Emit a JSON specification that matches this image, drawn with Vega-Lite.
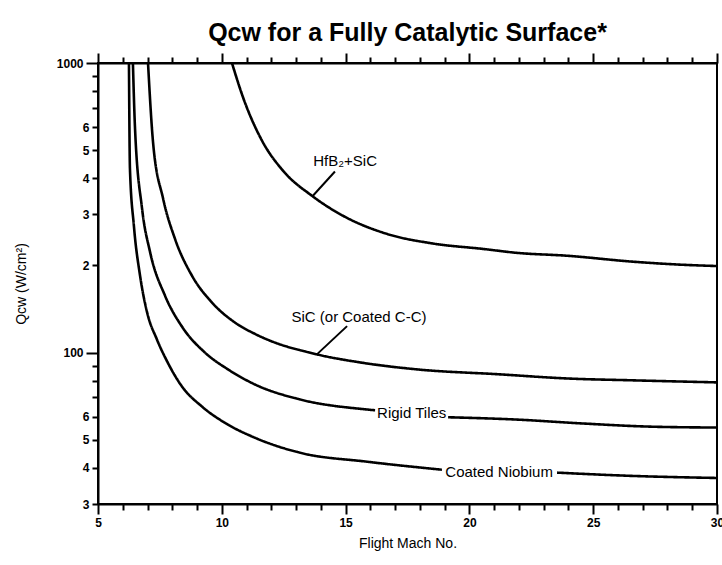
{
  "$schema": "https://vega.github.io/schema/vega-lite/v6.json",
  "width": 619,
  "height": 441,
  "autosize": {"type": "none"},
  "padding": {"left": 98, "top": 63, "right": 5, "bottom": 61},
  "background": "white",
  "title": {"text": "Qcw for a Fully Catalytic Surface*", "font": "Liberation Sans", "fontSize": 25, "fontWeight": "bold", "color": "black", "anchor": "middle", "frame": "group", "offset": 6},
  "config": {
    "view": {"stroke": "black", "strokeWidth": 2},
    "axis": {"domainColor": "black", "domainWidth": 2, "tickColor": "black", "tickWidth": 2, "labelColor": "black", "titleColor": "black", "grid": false, "labelFont": "Liberation Sans", "labelFontWeight": "bold", "labelFontSize": 12, "titleFont": "Liberation Sans", "titleFontWeight": "normal", "titleFontSize": 14, "labelFlush": false, "labelOverlap": false}
  },
  "datasets": {
    "curves": [
      {"series": "Coated Niobium", "seg": "a", "mach": 6.25, "q": 1000},
      {"series": "Coated Niobium", "seg": "a", "mach": 6.29, "q": 432},
      {"series": "Coated Niobium", "seg": "a", "mach": 6.45, "q": 274},
      {"series": "Coated Niobium", "seg": "a", "mach": 6.70, "q": 184},
      {"series": "Coated Niobium", "seg": "a", "mach": 6.98, "q": 138},
      {"series": "Coated Niobium", "seg": "a", "mach": 7.38, "q": 111},
      {"series": "Coated Niobium", "seg": "a", "mach": 7.79, "q": 93.3},
      {"series": "Coated Niobium", "seg": "a", "mach": 8.39, "q": 76.4},
      {"series": "Coated Niobium", "seg": "a", "mach": 9.20, "q": 65.1},
      {"series": "Coated Niobium", "seg": "a", "mach": 10.25, "q": 56.4},
      {"series": "Coated Niobium", "seg": "a", "mach": 11.34, "q": 50.8},
      {"series": "Coated Niobium", "seg": "a", "mach": 13.16, "q": 45.1},
      {"series": "Coated Niobium", "seg": "a", "mach": 15.86, "q": 42.0},
      {"series": "Coated Niobium", "seg": "a", "mach": 18.89, "q": 39.4},
      {"series": "Coated Niobium", "seg": "b", "mach": 23.54, "q": 38.5},
      {"series": "Coated Niobium", "seg": "b", "mach": 26.61, "q": 37.5},
      {"series": "Coated Niobium", "seg": "b", "mach": 30, "q": 36.9},
      {"series": "Rigid Tiles", "seg": "a", "mach": 6.41, "q": 1000},
      {"series": "Rigid Tiles", "seg": "a", "mach": 6.49, "q": 609},
      {"series": "Rigid Tiles", "seg": "a", "mach": 6.78, "q": 314},
      {"series": "Rigid Tiles", "seg": "a", "mach": 7.10, "q": 223},
      {"series": "Rigid Tiles", "seg": "a", "mach": 7.71, "q": 157},
      {"series": "Rigid Tiles", "seg": "a", "mach": 8.39, "q": 123},
      {"series": "Rigid Tiles", "seg": "a", "mach": 9.32, "q": 100},
      {"series": "Rigid Tiles", "seg": "a", "mach": 10.25, "q": 87.5},
      {"series": "Rigid Tiles", "seg": "a", "mach": 11.34, "q": 77.6},
      {"series": "Rigid Tiles", "seg": "a", "mach": 13.16, "q": 68.9},
      {"series": "Rigid Tiles", "seg": "a", "mach": 15.86, "q": 63.6},
      {"series": "Rigid Tiles", "seg": "a", "mach": 16.19, "q": 63.2},
      {"series": "Rigid Tiles", "seg": "b", "mach": 19.14, "q": 59.8},
      {"series": "Rigid Tiles", "seg": "b", "mach": 21.92, "q": 58.7},
      {"series": "Rigid Tiles", "seg": "b", "mach": 24.59, "q": 56.9},
      {"series": "Rigid Tiles", "seg": "b", "mach": 27.29, "q": 55.5},
      {"series": "Rigid Tiles", "seg": "b", "mach": 30, "q": 55.1},
      {"series": "SiC", "seg": "a", "mach": 7.02, "q": 1000},
      {"series": "SiC", "seg": "a", "mach": 7.22, "q": 536},
      {"series": "SiC", "seg": "a", "mach": 7.63, "q": 340},
      {"series": "SiC", "seg": "a", "mach": 8.11, "q": 247},
      {"series": "SiC", "seg": "a", "mach": 8.80, "q": 184},
      {"series": "SiC", "seg": "a", "mach": 9.60, "q": 149},
      {"series": "SiC", "seg": "a", "mach": 10.53, "q": 127},
      {"series": "SiC", "seg": "a", "mach": 11.34, "q": 116},
      {"series": "SiC", "seg": "a", "mach": 11.83, "q": 111},
      {"series": "SiC", "seg": "a", "mach": 13.84, "q": 98.6},
      {"series": "SiC", "seg": "a", "mach": 15.58, "q": 92.5},
      {"series": "SiC", "seg": "a", "mach": 17.88, "q": 87.5},
      {"series": "SiC", "seg": "a", "mach": 21.24, "q": 84.1},
      {"series": "SiC", "seg": "a", "mach": 23.94, "q": 81.4},
      {"series": "SiC", "seg": "a", "mach": 26.61, "q": 80.2},
      {"series": "SiC", "seg": "a", "mach": 30, "q": 78.9},
      {"series": "HfB2+SiC", "seg": "a", "mach": 10.41, "q": 1000},
      {"series": "HfB2+SiC", "seg": "a", "mach": 10.86, "q": 760},
      {"series": "HfB2+SiC", "seg": "a", "mach": 11.62, "q": 540},
      {"series": "HfB2+SiC", "seg": "a", "mach": 12.47, "q": 425},
      {"series": "HfB2+SiC", "seg": "a", "mach": 13.68, "q": 346},
      {"series": "HfB2+SiC", "seg": "a", "mach": 14.89, "q": 297},
      {"series": "HfB2+SiC", "seg": "a", "mach": 16.67, "q": 257},
      {"series": "HfB2+SiC", "seg": "a", "mach": 18.53, "q": 238},
      {"series": "HfB2+SiC", "seg": "a", "mach": 20.55, "q": 228},
      {"series": "HfB2+SiC", "seg": "a", "mach": 21.92, "q": 221},
      {"series": "HfB2+SiC", "seg": "a", "mach": 23.94, "q": 216},
      {"series": "HfB2+SiC", "seg": "a", "mach": 26.61, "q": 206},
      {"series": "HfB2+SiC", "seg": "a", "mach": 28.63, "q": 201},
      {"series": "HfB2+SiC", "seg": "a", "mach": 30, "q": 199}
    ],
    "leaders": [
      {"series": "HfB2+SiC", "mach": 14.57, "q": 422, "mach2": 13.68, "q2": 348},
      {"series": "SiC", "mach": 15.06, "q": 123.4, "mach2": 13.84, "q2": 98.6}
    ],
    "labels": [
      {"text": "HfB₂+SiC", "mach": 14.98, "q": 457},
      {"text": "SiC (or Coated C-C)", "mach": 15.54, "q": 132.5},
      {"text": "Rigid Tiles", "mach": 17.67, "q": 62.1},
      {"text": "Coated Niobium", "mach": 21.2, "q": 38.7}
    ]
  },
  "layer": [
    {
      "data": {"name": "curves"},
      "mark": {"type": "line", "color": "black", "strokeWidth": 2.6, "interpolate": "monotone", "clip": true},
      "encoding": {
        "x": {"field": "mach", "type": "quantitative", "scale": {"domain": [5, 30], "nice": false, "zero": false},
          "axis": {"orient": "bottom", "values": [5,6,7,8,9,10,11,12,13,14,15,16,17,18,19,20,21,22,23,24,25,26,27,28,29,30],
            "labelExpr": "datum.value % 5 == 0 ? datum.label : ''",
            "tickSize": {"condition": {"test": "datum.value % 5 == 0", "value": 10}, "value": 6},
            "labelPadding": 3, "title": "Flight Mach No.", "titlePadding": 8}},
        "y": {"field": "q", "type": "quantitative", "scale": {"type": "log", "domain": [30, 1000], "nice": false},
          "axis": {"orient": "left", "values": [30,40,50,60,70,80,90,100,200,300,400,500,600,700,800,900,1000], "format": "d",
            "labelExpr": "datum.value == 100 || datum.value == 1000 ? datum.label : (indexof([70,80,90,700,800,900], datum.value) >= 0 ? '' : substring(datum.label, 0, 1))",
            "tickSize": {"condition": {"test": "datum.value == 100 || datum.value == 1000", "value": 12}, "value": 6},
            "labelPadding": 3, "title": "Qcw (W/cm²)", "titlePadding": 28}},
        "detail": {"field": "series"},
        "strokeDash": {"field": "seg", "legend": null, "scale": {"range": [[1,0],[1,0]]}}
      }
    },
    {
      "data": {"name": "leaders"},
      "mark": {"type": "rule", "color": "black", "strokeWidth": 2},
      "encoding": {
        "x": {"field": "mach", "type": "quantitative",
          "axis": {"orient": "top", "values": [5,6,7,8,9,10,11,12,13,14,15,16,17,18,19,20,21,22,23,24,25,26,27,28,29,30],
            "labels": false, "title": null,
            "tickSize": {"condition": {"test": "datum.value % 5 == 0", "value": 10}, "value": 6}}},
        "y": {"field": "q", "type": "quantitative"},
        "x2": {"field": "mach2"},
        "y2": {"field": "q2"}
      }
    },
    {
      "data": {"name": "labels"},
      "mark": {"type": "text", "color": "black", "font": "Liberation Sans", "fontSize": 15, "align": "center", "baseline": "middle"},
      "encoding": {
        "x": {"field": "mach", "type": "quantitative", "axis": null},
        "y": {"field": "q", "type": "quantitative"},
        "text": {"field": "text"}
      }
    }
  ],
  "resolve": {"axis": {"x": "independent"}}
}
